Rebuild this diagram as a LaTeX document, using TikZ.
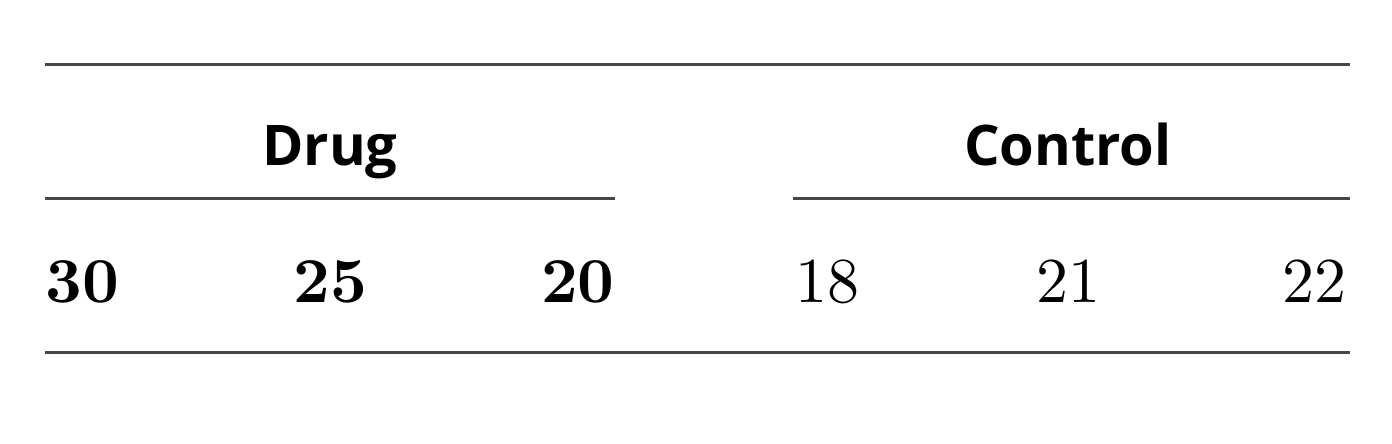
\documentclass[tikz,border=0pt]{standalone}
\usepackage{fontspec}
\newfontfamily\headfont{Open Sans}
\newfontfamily\numfont{lmroman10-regular.otf}[BoldFont=lmroman10-bold.otf]
\begin{document}
\begin{tikzpicture}[x=0.5pt,y=-0.5pt,
  rule/.style={line width=1.5pt, draw=black!72},
  head/.style={inner sep=0pt, anchor=base, font=\headfont\bfseries\fontsize{28}{34}\selectfont},
  num/.style={inner sep=0pt, font=\numfont\fontsize{32}{38}\selectfont}]
\useasboundingbox (0,0) rectangle (1392,444);
\coordinate (tl) at (45,65);
\coordinate (tr) at (1350,65);
\coordinate (dl) at (45,198);
\coordinate (dr) at (615,198);
\coordinate (cl) at (793,198);
\coordinate (cr) at (1350,198);
\coordinate (bl) at (45,352);
\coordinate (br) at (1350,352);
\node[head] (drug) at (330,165) {Drug};
\node[head] (ctrl) at (1068,165) {Control};
\node[num, anchor=base west] (d1) at (45,302) {\bfseries 30};
\node[num, anchor=base] (d2) at (330,302) {\bfseries 25};
\node[num, anchor=base east] (d3) at (615,302) {\bfseries 20};
\node[num, anchor=base west] (c1) at (795,302) {18};
\node[num, anchor=base] (c2) at (1068,302) {21};
\node[num, anchor=base east] (c3) at (1347,302) {22};

\draw[rule] (tl)--(tr);
\draw[rule] (dl)--(dr);
\draw[rule] (cl)--(cr);
\draw[rule] (bl)--(br);
\end{tikzpicture}
\end{document}
